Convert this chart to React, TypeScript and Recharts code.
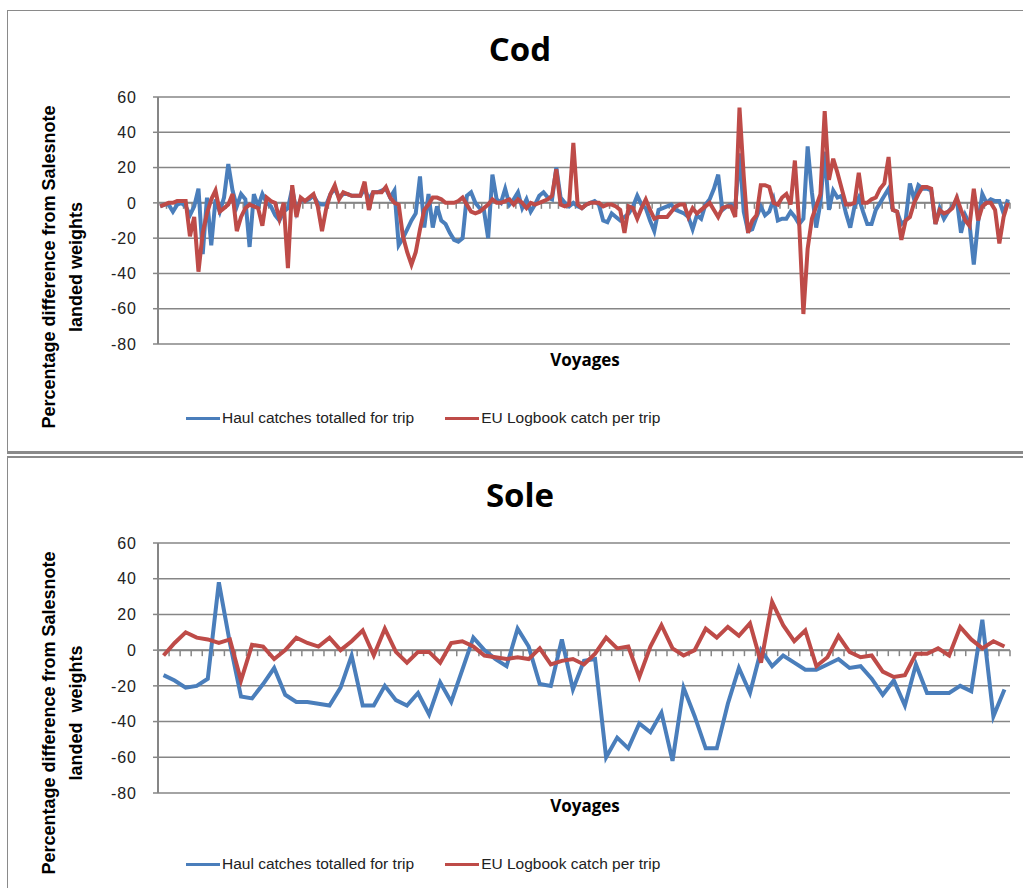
import React from 'react';
import { LineChart, Line, XAxis, YAxis, CartesianGrid, ReferenceLine, Legend } from 'recharts';

// Cod: 200 voyages
const codHaul = [
  -2, -1, -1, -5, -1, 0, -2, -7, -2, 8,
  -29, 3, -24, 2, -5, 3, 22, 7, -2, 5,
  2, -25, 5, -2, 5, 0, -2, -7, -10, -5,
  -3, 8, -5, 2, 1, 2, 4, 0, -1, -1,
  5, 8, 3, 5, 5, 4, 4, 4, 8, 2,
  6, 6, 7, 8, 3, 7, -24, -20, -15, -10,
  -6, 15, -14, 5, -14, -2, -10, -12, -17, -21,
  -22, -20, 4, 6, 0, -3, -4, -20, 16, 2,
  0, 8, -1, 2, 6, -3, 2, -5, -1, 4,
  6, 3, 2, 20, 3, 0, -2, 0, -2, -3,
  -1, 0, 1, -1, -10, -11, -6, -8, -10, -8,
  -6, -2, 4, -1, -3, -10, -16, -4, -3, -2,
  -1, -4, -5, -6, -8, -15, -7, -9, -1, 2,
  8, 16, -4, -2, -1, -3, 28, -5, -16, -15,
  -8, -2, -7, -5, 2, -10, -9, -9, -5, -8,
  -12, -9, 32, 6, -14, 0, 29, -4, 7, 3,
  4, -6, -14, -2, 3, -5, -12, -12, -4, 0,
  4, 8, -4, -5, -12, -10, 11, 2, 10, 8,
  8, 7, -12, -3, -9, -5, -2, 2, -17, -7,
  -12, -35, -11, 5, 0, 2, 1, 1, -6, 2,
];

const codLogbook = [
  -2, -1, 0, 0, 1, 1, 1, -19, -8, -39,
  -17, -6, 2, 7, -5, -3, -1, 5, -16, -8,
  -3, -1, -2, -3, -13, 3, 1, 0, -9, 0,
  -37, 10, -8, 3, 1, 3, 5, -2, -16, -3,
  5, 10, 2, 6, 5, 4, 4, 4, 12, -4,
  6, 6, 6, 9, 3, 0, -1, -19, -28, -35,
  -28, -15, -4, -1, 3, 3, 2, 0, 0, 0,
  1, 3, -1, -5, -6, -5, -3, -1, 2, 0,
  0, 1, 2, -1, 2, 0, -3, 0, -1, 0,
  1, 2, 4, 19, -1, -2, -1, 34, -1, -3,
  -1, 0, 0, 0, -2, -1, -1, -2, -4, -17,
  -2, -3, -9, -3, 2, -4, -9, -8, -8, -8,
  -5, -2, -1, -1, -8, -3, -6, -4, -2, 0,
  -4, -8, -3, -2, -2, -8, 54, 15, -17, -10,
  -7, 10, 10, 9, 0, -1, 3, 5, -1, 24,
  -11, -63, -26, -9, -2, 5, 52, 13, 25, 17,
  8, -1, -1, 0, 17, 0, 0, 2, 3, 8,
  11, 26, -4, -5, -21, -10, -8, 0, 5, 9,
  9, 8, -12, -4, -6, -5, -3, 3, -4, -10,
  -13, 8, -10, -2, 0, 0, -4, -23, -8, 0,
];

// Sole: 77 voyages
const soleHaul = [
  -14, -17, -21, -20, -16, 38, 4, -26, -27, -19,
  -10, -25, -29, -29, -30, -31, -21, -3, -31, -31,
  -20, -28, -31, -24, -36, -18, -29, -11, 7, 0,
  -5, -9, 12, 2, -19, -20, 6, -22, -6, -5,
  -60, -49, -55, -41, -46, -35, -62, -21, -37, -55,
  -55, -30, -10, -24, 0, -9, -3, -7, -11, -11,
  -8, -5, -10, -9, -16, -25, -17, -31, -8, -24,
  -24, -24, -20, -23, 17, -37, -22,
];

const soleLogbook = [
  -3, 4, 10, 7, 6, 4, 6, -17, 3, 2,
  -5, 0, 7, 4, 2, 7, 0, 5, 11, -3,
  12, -1, -7, -1, -1, -7, 4, 5, 2, -3,
  -4, -5, -4, -5, 1, -8, -6, -5, -8, -2,
  7, 1, 2, -15, 2, 14, 1, -3, 0, 12,
  7, 13, 8, 15, -7, 27, 14, 5, 11, -9,
  -4, 8, -1, -4, -3, -12, -15, -14, -2, -2,
  1, -3, 13, 6, 1, 5, 2,
];

const yTicks = [-80, -60, -40, -20, 0, 20, 40, 60];
const seriesNames = ['Haul catches totalled for trip', 'EU Logbook catch per trip'];
const codYTitle = ['Percentage difference from Salesnote', 'landed weights'];
const soleYTitle = ['Percentage difference from Salesnote', 'landed  weights'];

const GRID = '#868686';
const BLUE = '#4A7EBB';
const RED = '#BE4B48';
const PLOT_W = 852;

const toRows = (haul: number[], logbook: number[]) =>
  haul.map((h, i) => ({ voyage: i + 1, haul: h, logbook: logbook[i] }));

// zero line acting as the category axis, with tick marks at category boundaries
const zeroAxis = (count: number, every: number) => (props: any) => {
  const { x1, y1, x2 } = props;
  if (x1 == null || x2 == null) return <g />;
  const step = (x2 - x1) / count;
  const marks = [];
  for (let k = 0; k <= count; k += every) {
    const x = x1 + k * step;
    marks.push(<line key={k} x1={x} y1={y1} x2={x} y2={y1 + 6} stroke={GRID} strokeWidth={1.5} />);
  }
  return (
    <g>
      <line x1={x1} y1={y1} x2={x2} y2={y1} stroke={GRID} strokeWidth={2} />
      {marks}
    </g>
  );
};

const yTitle = (lines: string[], cx: number, cy: number) => () => (
  <text
    transform={`rotate(-90 ${cx} ${cy})`}
    x={cx}
    y={cy}
    textAnchor="middle"
    fontFamily="Liberation Sans, Arial, sans-serif"
    fontWeight="bold"
    fontSize={18}
    fill="#000"
    style={{ whiteSpace: 'pre' }}
  >
    <tspan x={cx} dy={0}>{lines[0]}</tspan>
    <tspan x={cx} dy={27}>{lines[1]}</tspan>
  </text>
);

const legendContent = (props: any) => {
  const items = [...(props.payload || [])].sort(
    (a: any, b: any) => seriesNames.indexOf(a.value) - seriesNames.indexOf(b.value),
  );
  return (
    <div style={{ display: 'flex', alignItems: 'center', fontFamily: 'Liberation Sans, Arial, sans-serif', fontSize: 15.5, color: '#222' }}>
      {items.map((p: any) => (
        <div key={p.value} style={{ display: 'flex', alignItems: 'center', marginRight: 31 }}>
          <div style={{ width: 34, height: 3, background: p.color, marginRight: 2 }} />
          <span>{p.value}</span>
        </div>
      ))}
    </div>
  );
};

interface PanelProps {
  title: string;
  yLines: string[];
  haul: number[];
  logbook: number[];
  top: number;
  height: number;
  bottom: number;
  tickEvery: number;
}

const Panel: React.FC<PanelProps> = ({ title, yLines, haul, logbook, top, height, bottom, tickEvery }) => {
  const data = toRows(haul, logbook);
  const half = PLOT_W / data.length / 2;
  return (
    <div style={{ position: 'absolute', left: 0, top, width: 1023, height }}>
      <div
        style={{
          position: 'absolute', left: 0, top: 29, width: 1040, textAlign: 'center',
          fontFamily: 'Open Sans, sans-serif', fontWeight: 'bold', fontSize: 33, lineHeight: '40px',
        }}
      >
        {title}
      </div>
      <div
        style={{
          position: 'absolute', left: 485, top: 350, width: 200, textAlign: 'center',
          fontFamily: 'Open Sans, sans-serif', fontWeight: 'bold', fontSize: 17, lineHeight: '20px',
        }}
      >
        Voyages
      </div>
      <LineChart
        width={1023}
        height={height}
        data={data}
        margin={{ top: 97, right: 13, left: 98, bottom }}
        style={{ position: 'absolute', left: 0, top: 0 }}
      >
        <CartesianGrid horizontal vertical={false} stroke={GRID} strokeWidth={1.5} />
        <XAxis dataKey="voyage" type="category" hide padding={{ left: half, right: half }} />
        <YAxis
          domain={[-80, 60]}
          ticks={yTicks}
          interval={0}
          width={60}
          axisLine={{ stroke: GRID, strokeWidth: 2 }}
          tickLine={{ stroke: GRID, strokeWidth: 1.5 }}
          tickSize={5}
          tickMargin={16}
          tick={{ fill: '#222', fontSize: 16, letterSpacing: 1, fontFamily: 'Liberation Sans, Arial, sans-serif' }}
          label={yTitle(yLines, 55, 267)}
        />
        <ReferenceLine y={0} shape={zeroAxis(data.length, tickEvery)} />
        <Legend
          layout="horizontal"
          verticalAlign="middle"
          align="center"
          content={legendContent}
          wrapperStyle={{ left: 186, top: 409, width: 720 }}
        />
        <Line
          name={seriesNames[0]}
          dataKey="haul"
          type="linear"
          stroke={BLUE}
          strokeWidth={4}
          dot={false}
          isAnimationActive={false}
        />
        <Line
          name={seriesNames[1]}
          dataKey="logbook"
          type="linear"
          stroke={RED}
          strokeWidth={4}
          dot={false}
          isAnimationActive={false}
        />
      </LineChart>
    </div>
  );
};

export default function App() {
  return (
    <div style={{ position: 'absolute', left: 0, top: 0, width: 1023, height: 888, overflow: 'hidden', background: '#fff' }}>
      <div style={{ position: 'absolute', left: 7, top: 10, width: 1040, height: 440, borderLeft: '1px solid #8a8a8a', borderTop: '1px solid #8a8a8a', borderBottom: '3px solid #8a8a8a' }} />
      <div style={{ position: 'absolute', left: 7, top: 456, width: 1040, height: 460, borderLeft: '1px solid #8a8a8a', borderTop: '2px solid #8a8a8a' }} />
      <Panel title="Cod" yLines={codYTitle} haul={codHaul} logbook={codLogbook} top={0} height={452} bottom={108} tickEvery={2} />
      <Panel title="Sole" yLines={soleYTitle} haul={soleHaul} logbook={soleLogbook} top={446} height={442} bottom={95} tickEvery={1} />
    </div>
  );
}
